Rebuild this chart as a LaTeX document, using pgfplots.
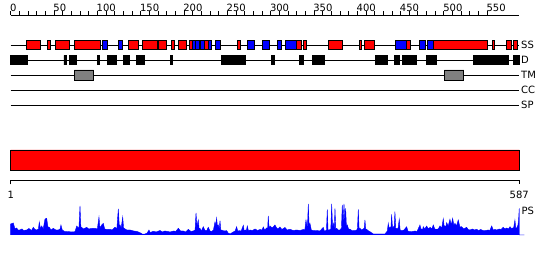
\documentclass[border=0pt]{standalone}
\usepackage{fontspec}
\setmainfont{DejaVu Sans}
\usepackage{pgfplots}
\pgfplotsset{compat=1.18}
\newcommand{\bx}[5]{\addplot[draw=black, line width=0.8pt, fill=#1] coordinates {(#2,#4) (#3,#4) (#3,#5) (#2,#5) (#2,#4)};}
\newcommand{\sse}[3]{\bx{#1}{#2}{#3}{210.3}{219.6}}
\newcommand{\dis}[2]{\bx{black}{#1}{#2}{195.2}{204.5}}
\newcommand{\tmh}[2]{\bx{gray}{#1}{#2}{180}{190}}
\begin{document}
\begin{tikzpicture}
\begin{axis}[
  scale only axis, width=508.6pt, height=220pt,
  xmin=0, xmax=587, ymin=25, ymax=245,
  clip=false,
  axis x line*=top, axis y line=none,
  x axis line style={-, line width=0.8pt},
  xtick={0,50,...,550}, minor x tick num=4,
  tick align=outside, major tick length=3.5pt, minor tick length=3.5pt,
  tick style={black, line width=0.8pt},
  xticklabel style={font=\fontsize{10}{12}\selectfont, anchor=south west, inner sep=0pt, xshift=-0.8pt},
  /pgf/number format/assume math mode=true,
]
% track lines
\addplot[black, line width=0.8pt] coordinates {(0,215) (587,215)};
\addplot[black, line width=0.8pt] coordinates {(0,200) (587,200)};
\addplot[black, line width=0.8pt] coordinates {(0,185) (587,185)};
\addplot[black, line width=0.8pt] coordinates {(0,170) (587,170)};
\addplot[black, line width=0.8pt] coordinates {(0,155) (587,155)};
% SS
\sse{red}{18.5}{34.6}
\sse{red}{42.3}{45.4}
\sse{red}{51.5}{68.1}
\sse{red}{73.4}{103.5}
\sse{blue}{105.4}{112}
\sse{blue}{124.2}{129.3}
\sse{red}{135.8}{147.3}
\sse{red}{151.6}{168.9}
\sse{red}{170.1}{179.3}
\sse{red}{185.1}{188.6}
\sse{red}{193.2}{202.4}
\sse{red}{205.9}{209.4}
\sse{blue}{209.4}{212.8}
\sse{blue}{212.8}{217.4}
\sse{blue}{218.6}{223.2}
\sse{red}{223.2}{227.8}
\sse{blue}{227.8}{231.3}
\sse{blue}{235.9}{241.7}
\sse{red}{261.3}{264.8}
\sse{blue}{272.8}{280.9}
\sse{blue}{290.2}{298.3}
\sse{blue}{307.9}{312.9}
\sse{blue}{317.6}{330.3}
\sse{red}{330.3}{336}
\sse{red}{337.9}{341}
\sse{red}{367.2}{382.9}
\sse{red}{402.5}{405.3}
\sse{red}{408.8}{419.9}
\sse{blue}{444.1}{456.5}
\sse{red}{456.5}{461.1}
\sse{blue}{471.5}{478.4}
\sse{blue}{481.2}{488.1}
\sse{red}{488.1}{549.7}
\sse{red}{556.1}{558.4}
\sse{red}{572.7}{578.5}
\sse{red}{580.4}{585}
% D
\dis{0}{19.6}
\dis{61.5}{64.7}
\dis{67.3}{75.4}
\dis{99.7}{102}
\dis{112}{115.8}
\dis{117}{121.6}
\dis{129.7}{136.6}
\dis{144.7}{153.9}
\dis{184}{186.4}
\dis{242.8}{260}
\dis{261}{270.9}
\dis{300.6}{304}
\dis{332.9}{337.5}
\dis{348.3}{361.8}
\dis{421}{431}
\dis{432.2}{435.3}
\dis{442.6}{448.4}
\dis{452.2}{468}
\dis{479.4}{491.9}
\dis{534.2}{574.3}
\dis{580.4}{587}
% TM
\tmh{73.4}{95.8}
\tmh{500.7}{523.1}
% row labels
\node[font=\fontsize{10}{12}\selectfont, anchor=west, inner sep=0pt] at (axis cs:589,215) {SS};
\node[font=\fontsize{10}{12}\selectfont, anchor=west, inner sep=0pt] at (axis cs:589,200) {D};
\node[font=\fontsize{10}{12}\selectfont, anchor=west, inner sep=0pt] at (axis cs:589,185) {TM};
\node[font=\fontsize{10}{12}\selectfont, anchor=west, inner sep=0pt] at (axis cs:589,170) {CC};
\node[font=\fontsize{10}{12}\selectfont, anchor=west, inner sep=0pt] at (axis cs:589,155) {SP};
% big bar
\bx{red}{0}{587}{89.3}{110}
% sequence axis
\addplot[black, line width=0.8pt] coordinates {(0,75.5) (0,80) (587,80) (587,75.5)};
\node[font=\fontsize{10}{12}\selectfont, inner sep=0pt] at (axis cs:0,65) {1};
\node[font=\fontsize{10}{12}\selectfont, inner sep=0pt] at (axis cs:587,65) {587};
% PS profile
\addplot[draw=blue, fill=blue, line width=0.4pt] coordinates {
(0,25) (0,36) (3,37) (5,31) (6.9,32) (8.5,30) (10.7,30) (13,31) (15,29.5) (18.5,30) (21,31.5) (24,29.5) (26.1,32.7) (28,30.5) (30,30) (32,31) (33,38) (34.5,31) (35.8,34) (37.5,31) (39.6,41) (41.5,41.7) (43,33) (44.6,32.7) (46.5,30) (49.2,31.7) (52,30) (55,30) (57,31) (58,35) (59.5,30) (62.7,28.3) (66,28.5) (70,28) (74.2,28.3) (76.2,34) (78,32) (78.8,33) (80,54) (81,33) (81.9,32.7) (84,31) (87.7,32.7) (90,31) (93,31.5) (97.3,31.7) (100,31) (101.9,43) (103,32) (105,35) (106.9,36.7) (108.5,31) (111,30.5) (114.6,30.7) (117,30) (120.4,32.7) (122.5,31) (124.2,51) (125.3,35) (126.2,35) (127.5,32) (129.3,43) (130.3,32) (130.8,31.7) (134,30) (137.7,30) (142,29) (146,28.5) (149.2,27.3) (152.4,25.7) (155,26) (157.5,27) (159.6,30) (161,27.5) (164.6,28.7) (168,28) (172.3,29.5) (175,28) (178,29) (180,28.7) (184,28) (188,29) (190.5,28.5) (193.5,31.7) (196,29) (199.2,29) (202,28) (205,30.7) (208,28.5) (210.8,29) (212.8,30) (213.9,47) (215,34) (216.5,40) (217.5,31) (218.5,31.7) (220,29) (222.3,33.3) (224,30) (226,29) (228.1,32.7) (230,29) (232,28.5) (234,30) (235.8,38) (236.7,34) (237.7,42) (238.7,33) (239.6,35) (240.6,31) (241.6,39.3) (242.5,30) (243.5,30) (246,29) (249.3,29.3) (251,27) (253.1,26) (255,27) (256.9,28) (259,29) (260.8,33.3) (262,29) (263.9,29.3) (266,29) (268.5,34.7) (269.5,29) (270.8,30) (272,29.5) (273.1,34) (274.5,29) (276.2,30) (279,29.5) (282,31) (285,29.5) (287.7,30.5) (290,30) (291.6,33) (293,30) (295.5,32) (296.5,30) (297.3,44) (298.3,31) (299.3,34) (302,32) (305,35) (307,32) (308.5,31) (310.8,33) (313,30.5) (316.6,32.5) (319,30) (322.4,30.7) (326,29.5) (330.1,30) (334,29.5) (337.7,30.5) (339.5,30) (340.8,40) (342.5,32) (343.5,56) (344.5,33) (345.4,36.7) (347,30) (349.2,29.3) (353,29.5) (357,29) (360.8,32.7) (362,29) (363.1,29) (364.5,30) (365.4,50.7) (366.3,30) (367.7,30) (369.5,31) (370.5,56) (371.5,33) (372.4,36.7) (373.5,31) (374.3,51.7) (375.2,31) (376.2,31.7) (378,30) (380.1,30) (381.8,32) (382.7,55) (383.7,38) (384.7,56) (385.7,40) (386.6,51.7) (387.6,32) (388.5,35) (390,31) (391.6,30.7) (394,29.5) (397.4,29.3) (399.5,30) (400.3,32) (401.2,50.7) (402.2,30) (403.2,31.7) (405,30) (407,31) (408.1,32) (408.9,40) (409.8,31) (410.9,30.7) (413,29) (414.7,28.3) (417,27) (418.5,26) (425,26) (432,26) (434.7,29) (435.8,36.7) (436.8,31) (437.8,33) (438.8,31) (439.7,45.7) (440.7,32) (441.6,33.3) (442.5,31) (443.5,48.3) (444.5,31) (445.5,31.7) (447,31) (448.5,40.7) (449.5,30) (451.3,29.3) (454,30) (457,33.3) (458.5,29) (460.9,28.3) (463.5,28.5) (466.7,29) (469,28.5) (472.4,35) (473.5,31) (474.4,31) (475.3,30) (476.2,33.3) (478,31) (480.1,34) (482,31) (484,32.7) (486,31) (487.8,35) (489.5,31) (491.7,30.7) (493.5,31) (495.5,34) (497.5,32) (499.3,41.3) (500.3,34) (501.3,34) (502.2,33) (503.2,37.3) (505,34) (507,40.7) (508.5,35) (510.1,41.7) (511.5,35) (512.8,36.7) (514.5,34) (516.6,40) (518.5,33) (520.5,33.3) (523,31) (526.3,32.7) (528,30.5) (530.1,30) (533,31) (535,30) (537.8,30.7) (540,29.5) (542.5,30.5) (545.5,29.3) (548,29.5) (551.3,30) (553,29.5) (555.2,34) (557,30) (559,30.5) (561,30) (564,31) (566,30.5) (568.5,32.7) (570.5,31) (572.5,32) (574.5,31) (576.3,33.3) (578,31.5) (579.4,32) (580.5,32) (582,40) (583,32) (584,32) (585.5,35) (586.2,40) (587,51.7) (587,25) (593,25)
};
\node[font=\fontsize{10}{12}\selectfont, anchor=west, inner sep=0pt] at (axis cs:589.5,49.3) {PS};
\coordinate (bl) at (axis cs:-12.35,0);
\coordinate (tr) at (axis cs:622.5,260);
\end{axis}
\pgfresetboundingbox
\path (bl) rectangle (tr);
\end{tikzpicture}
\end{document}
